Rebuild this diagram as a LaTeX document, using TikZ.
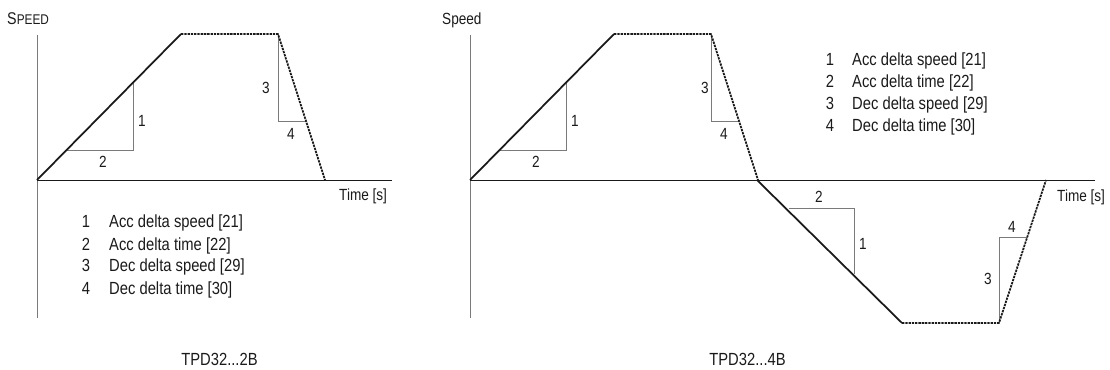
\documentclass[tikz,border=0pt]{standalone}
\usepackage{fontspec}
\setmainfont{Liberation Sans}[FakeStretch=0.84]
\usetikzlibrary{positioning}
\definecolor{tinta}{HTML}{1A1A1A}
\definecolor{gris}{HTML}{7A7A7A}
\tikzset{
  perfil/.style={tinta,line width=1.5pt,line join=round},
  perfilpunteado/.style={perfil,dash pattern=on 2pt off 0.8pt},
  eje/.style={tinta,line width=0.7pt},
  ejev/.style={gris,line width=0.8pt},
  tri/.style={gris,line width=0.7pt},
  num/.style={text=tinta,inner sep=0pt,font=\fontsize{13.8}{16}\selectfont},
  leyenda/.style={text=tinta,inner sep=0pt,anchor=base west,font=\fontsize{15}{18}\selectfont}
}

\begin{document}
\begin{tikzpicture}[x=0.3mm,y=-0.3mm]
\useasboundingbox (0,0) rectangle (1110,370);

\draw[ejev] (37,35) -- (37,318);
\draw[eje] (37,180) -- (392,180);
\draw[ejev] (470,35) -- (470,318);
\draw[eje] (470,180) -- (1095,180);

\foreach \s/\n/\tx in {0/a/266,433/b/272} {
 \begin{scope}[xshift=\s*0.3mm]
  \draw[tri] (67,150) -- (133,150) -- (133,83);
  \draw[tri] (278,34) -- (278,121) -- (306,121);
  \draw[perfil] (37,180) -- (181,34);
  \draw[perfilpunteado] (181,34) -- (278,34) -- (325,180);
  \node[num] (uno\n) at (142,121) {1};
  \node[num] (dos\n) at (103,162) {2};
  \node[num] (tres\n) at (\tx,88) {3};
  \node[num] (cuatro\n) at (291,134) {4};
 \end{scope}
}

\draw[tri] (789,208) -- (854,208) -- (854,274);
\draw[tri] (999,323) -- (999,237) -- (1027,237);
\draw[perfil] (757,180) -- (902,323);
\draw[perfilpunteado] (902,323) -- (999,323) -- (1046,180);
\node[num] (dosc) at (819,197) {2};
\node[num] (unoc) at (863,244) {1};
\node[num] (tresc) at (988,279) {3};
\node[num] (cuatroc) at (1012,227) {4};

\node[num,anchor=base west] (ejeyizq) at (7,25) {\fontsize{14.5}{16}\selectfont S\fontsize{12}{14}\selectfont PEED};
\node[num,anchor=base west] (ejeyder) at (442,25) {Speed};
\node[num,anchor=base west] (tiempoizq) at (339,201) {Time [s]};
\node[num,anchor=base west] (tiempoder) at (1057,201.5) {Time [s]};

\foreach \i/\t in {1/Acc delta speed [21],2/Acc delta time [22],3/Dec delta speed [29],4/Dec delta time [30]} {
  \node[leyenda,anchor=base] (nizq\i) at (86,206+22*\i) {\i};
  \node[leyenda] (tizq\i) at (109,206+22*\i) {\t};
  \node[leyenda,anchor=base] (nder\i) at (830,44+22*\i) {\i};
  \node[leyenda] (tder\i) at (852,44+22*\i) {\t};
}

\node[leyenda,anchor=base] (tpdizq) at (219.5,365) {TPD32...2B};
\node[leyenda,anchor=base] (tpdder) at (747.5,365) {TPD32...4B};

\end{tikzpicture}
\end{document}
